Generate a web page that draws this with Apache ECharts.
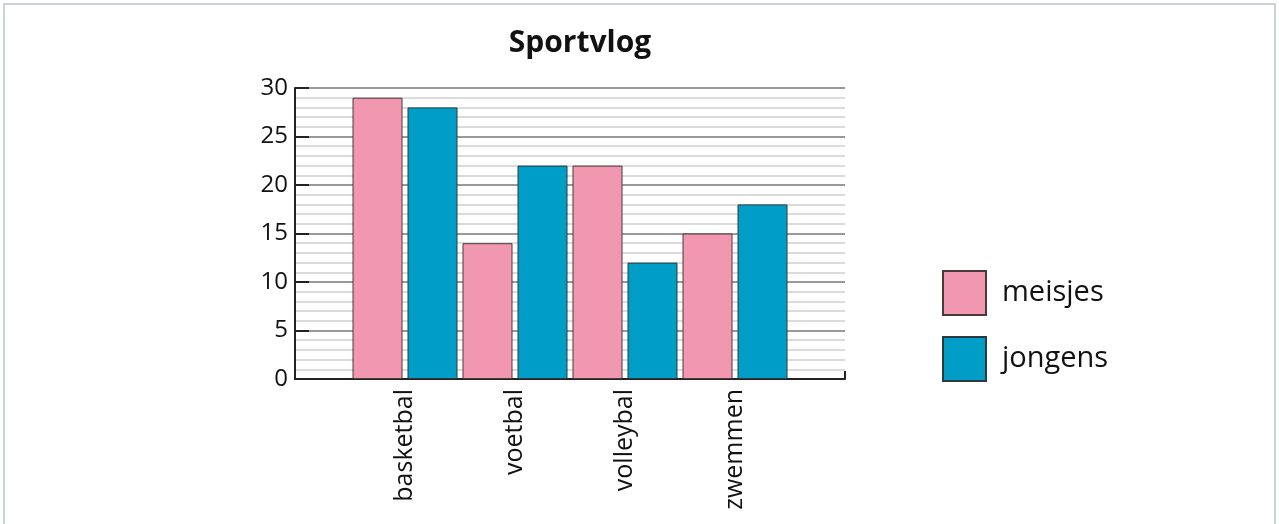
<!DOCTYPE html>
<html>
<head>
<meta charset="utf-8">
<script src="https://cdn.jsdelivr.net/npm/echarts@6/dist/echarts.min.js"></script>
<style>
  html, body { margin: 0; padding: 0; background: #fff; }
  #frame { position: absolute; left: 3px; top: 3px; width: 1269px; height: 540px; border: 2px solid #c9d3db; border-bottom: none; }
  #chart { position: absolute; left: 0; top: 0; width: 1279px; height: 524px; }
</style>
</head>
<body>
<div id="frame"></div>
<div id="chart"></div>
<script>
const categories = ['', 'basketbal', 'voetbal', 'volleybal', 'zwemmen', ''];
const meisjes = [null, 29, 14, 22, 15, null];
const jongens = [null, 28, 22, 12, 18, null];
const yTicks = [0, 5, 10, 15, 20, 25, 30];

const chart = echarts.init(document.getElementById('chart'), null, { renderer: 'canvas' });
const font = 'Open Sans, Lato, sans-serif';
chart.setOption({
  animation: false,
  title: {
    text: 'Sportvlog',
    left: 580, top: 28, textAlign: 'center', padding: 0,
    textStyle: { fontFamily: font, fontWeight: 'bold', fontSize: 30, color: '#111' }
  },
  legend: {
    orient: 'vertical',
    left: 942, top: 270, padding: 0,
    itemWidth: 43, itemHeight: 44, itemGap: 20,
    icon: 'rect',
    textStyle: { fontFamily: font, fontSize: 29, color: '#111', padding: [0, 0, 0, 11] },
    data: ['meisjes', 'jongens']
  },
  grid: { left: 295, top: 88, width: 550, height: 291, containLabel: false },
  xAxis: {
    type: 'category',
    data: categories,
    boundaryGap: false,
    axisLine: { lineStyle: { color: '#222', width: 2 } },
    axisTick: { show: true, inside: true, length: 8, interval: (i) => i === categories.length - 1, lineStyle: { color: '#222', width: 2 } },
    axisLabel: { rotate: 90, fontFamily: font, fontSize: 25, fontWeight: 500, color: '#111', margin: 10, interval: 0 },
    splitLine: { show: false }
  },
  yAxis: {
    type: 'value',
    min: 0, max: 30, interval: 5,
    axisLine: { show: true, lineStyle: { color: '#222', width: 2 } },
    axisTick: { show: true, inside: true, length: 14, lineStyle: { color: '#222', width: 2 } },
    axisLabel: {
      fontFamily: font, fontSize: 24, color: '#111', margin: 7,
      formatter: (v) => yTicks.includes(v) ? String(v) : ''
    },
    splitLine: { show: true, lineStyle: { color: '#999', width: 2 } },
    minorTick: { show: false, splitNumber: 5 },
    minorSplitLine: { show: true, lineStyle: { color: '#cfcfcf', width: 1.5 } }
  },
  series: [
    {
      name: 'meisjes', type: 'bar', data: meisjes,
      barWidth: 50, barGap: '10%',
      itemStyle: { color: '#f197b0', borderColor: '#4a3a3a', borderWidth: 1 }
    },
    {
      name: 'jongens', type: 'bar', data: jongens,
      barWidth: 50, barGap: '10%',
      itemStyle: { color: '#009ec6', borderColor: '#2a3a40', borderWidth: 1 }
    }
  ]
});
</script>
</body>
</html>
